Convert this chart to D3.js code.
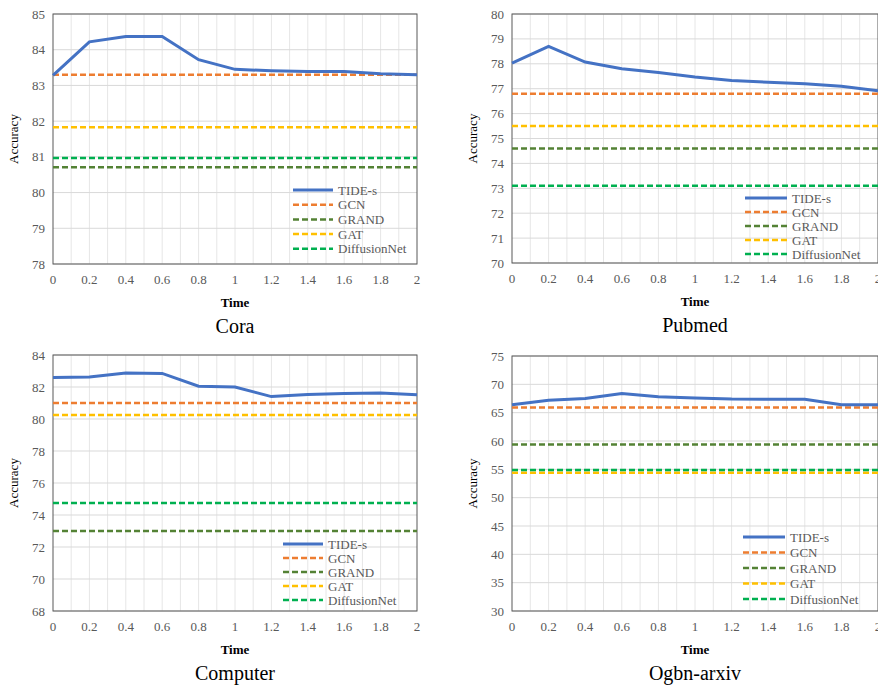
<!DOCTYPE html>
<html><head><meta charset="utf-8">
<script src="https://cdn.jsdelivr.net/npm/d3@7"></script>
<style>body{margin:0;background:#fff}text{font-family:"Liberation Serif","Times New Roman",serif}</style>
</head><body>
<svg id="c" width="878" height="685"></svg>
<script>
var times = [0, 0.2, 0.4, 0.6, 0.8, 1, 1.2, 1.4, 1.6, 1.8, 2];
var seriesNames = ["TIDE-s", "GCN", "GRAND", "GAT", "DiffusionNet"];
var colors = ["#4472C4", "#ED7D31", "#548235", "#FFC000", "#00B050"];

var coraTide = [83.28, 84.22, 84.37, 84.37, 83.72, 83.45, 83.41, 83.39, 83.39, 83.33, 83.3];
var coraBase = [83.3, 80.71, 81.83, 80.97];       // GCN, GRAND, GAT, DiffusionNet
var pubmedTide = [78.03, 78.7, 78.07, 77.8, 77.65, 77.47, 77.33, 77.26, 77.2, 77.1, 76.92];
var pubmedBase = [76.8, 74.6, 75.5, 73.1];
var computerTide = [82.6, 82.62, 82.88, 82.85, 82.05, 82.0, 81.4, 81.53, 81.6, 81.62, 81.52];
var computerBase = [81.0, 73.0, 80.25, 74.75];
var arxivTide = [66.4, 67.2, 67.5, 68.4, 67.8, 67.6, 67.4, 67.35, 67.35, 66.4, 66.4];
var arxivBase = [65.9, 59.4, 54.4, 54.9];

var panels = [
  {title:"Cora", tide:coraTide, base:coraBase, y:[78,85], step:1, box:[53,417,14,264], leg:[293,338,190,14.7]},
  {title:"Pubmed", tide:pubmedTide, base:pubmedBase, y:[70,80], step:1, box:[512,878,14,263], leg:[745,792,198,14]},
  {title:"Computer", tide:computerTide, base:computerBase, y:[68,84], step:2, box:[53,417,355,611], leg:[283,328,544,14]},
  {title:"Ogbn-arxiv", tide:arxivTide, base:arxivBase, y:[30,75], step:5, box:[512,878,356,611], leg:[743,790,537,15.5]}
];

var svg = d3.select("#c");

panels.forEach(function(p) {
  var x = d3.scaleLinear().domain([0,2]).range([p.box[0], p.box[1]]);
  var y = d3.scaleLinear().domain(p.y).range([p.box[3], p.box[2]]);
  var g = svg.append("g");
  var yt = d3.range(p.y[0], p.y[1] + 0.001, p.step);

  // grid
  g.selectAll(".vg").data(d3.range(1, 20)).enter().append("line")
    .attr("x1", d => x(d/10)).attr("x2", d => x(d/10))
    .attr("y1", p.box[2]).attr("y2", p.box[3])
    .attr("stroke", "#e6e6e6");
  g.selectAll(".hg").data(yt).enter().append("line")
    .attr("x1", p.box[0]).attr("x2", p.box[1])
    .attr("y1", d => y(d)).attr("y2", d => y(d))
    .attr("stroke", "#d9d9d9");
  g.append("rect").attr("x", p.box[0]).attr("y", p.box[2])
    .attr("width", p.box[1]-p.box[0]).attr("height", p.box[3]-p.box[2])
    .attr("fill", "none").attr("stroke", "#595959").attr("stroke-width", 1);

  // ticks
  g.selectAll(".yl").data(yt).enter().append("text")
    .attr("x", p.box[0]-8).attr("y", d => y(d)+4.5)
    .attr("text-anchor", "end").attr("font-size", 13).attr("fill", "#595959")
    .text(d => d);
  g.selectAll(".xl").data(times).enter().append("text")
    .attr("x", d => x(d)).attr("y", p.box[3]+20)
    .attr("text-anchor", "middle").attr("font-size", 13).attr("fill", "#595959")
    .text(d => d);

  var cx = (p.box[0]+p.box[1])/2;
  g.append("text").attr("x", cx).attr("y", p.box[3]+43)
    .attr("text-anchor", "middle").attr("font-size", 13).attr("font-weight", "bold").text("Time");
  g.append("text").attr("x", cx).attr("y", p.box[3]+69)
    .attr("text-anchor", "middle").attr("font-size", 20).text(p.title);
  g.append("text").attr("transform", "translate(" + (p.box[0]-35) + "," + ((p.box[2]+p.box[3])/2) + ") rotate(-90)")
    .attr("text-anchor", "middle").attr("font-size", 13).text("Accuracy");

  // baselines
  p.base.forEach(function(v, i) {
    g.append("line").attr("x1", p.box[0]).attr("x2", p.box[1])
      .attr("y1", y(v)).attr("y2", y(v))
      .attr("stroke", colors[i+1]).attr("stroke-width", 2.5).attr("stroke-dasharray", "6,3");
  });
  g.append("path").datum(p.tide)
    .attr("d", d3.line().x((d,i) => x(times[i])).y(d => y(d)))
    .attr("fill", "none").attr("stroke", colors[0]).attr("stroke-width", 3);

  // legend
  seriesNames.forEach(function(n, i) {
    var ly = p.leg[2] + i*p.leg[3];
    g.append("line").attr("x1", p.leg[0]).attr("x2", p.leg[1]-5)
      .attr("y1", ly).attr("y2", ly).attr("stroke", colors[i])
      .attr("stroke-width", i ? 2.5 : 3).attr("stroke-dasharray", i ? "6,3" : null);
    g.append("text").attr("x", p.leg[1]).attr("y", ly+4.5)
      .attr("font-size", 13).attr("fill", "#595959").text(n);
  });
});
</script>
</body></html>
